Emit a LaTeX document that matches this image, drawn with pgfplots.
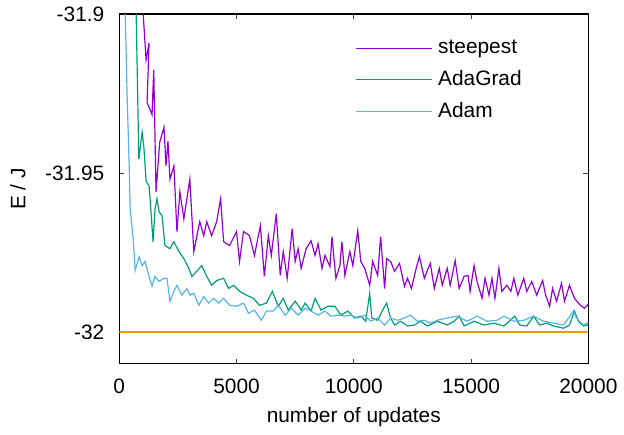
\documentclass[border=0pt]{standalone}
\usepackage{pgfplots}
\pgfplotsset{compat=1.18}
\usepackage{fontspec}
\setmainfont{Liberation Sans}

\definecolor{cSteep}{HTML}{9400D3}
\definecolor{cAdaGrad}{HTML}{009E73}
\definecolor{cAdam}{HTML}{56B4E9}
\definecolor{cRef}{HTML}{E69F00}

\begin{document}
\begin{tikzpicture}
\begin{axis}[
  at={(0,0)}, anchor=south west,
  scale only axis, width=236pt, height=176pt,
  xmin=0, xmax=20000, ymin=-32.01, ymax=-31.9,
  font=\fontsize{10.5}{12}\selectfont,
  axis line style={line width=0.6pt},
  tick align=inside, major tick length=2.5pt,
  tick style={line width=0.5pt, black!75},
  xtick={0,5000,10000,15000,20000},
  xticklabels={0,5000,10000,15000,20000},
  ytick={-32,-31.95,-31.9},
  yticklabels={-32,-31.95,-31.9},
  scaled x ticks=false, scaled y ticks=false,
  xticklabel style={yshift=-4pt},
  yticklabel style={xshift=-4pt},
  xlabel={number of updates},
  ylabel={E / J},
  xlabel style={at={(axis description cs:0.5,-0.153)}, anchor=center},
  ylabel style={at={(axis description cs:-0.216,0.5)}, anchor=center},
  legend style={draw=none, fill=none, at={(axis description cs:0.49,0.955)},
    anchor=north west, row sep=1pt,
    nodes={inner sep=3pt}},
  legend cell align=left,
  legend image code/.code={\draw[#1] (0pt,0pt) -- (35.5pt,0pt);
    \path (0pt,0pt) -- (38pt,0pt);},
  every axis plot/.append style={line width=0.6pt},
]
% steepest descent
\addplot[cSteep] coordinates {
(990,-31.885) (1017,-31.8997) (1144,-31.9144) (1271,-31.9091) (1186,-31.9278) (1398,-31.9316)
(1470,-31.9175) (1568,-31.9559) (1725,-31.9403) (1907,-31.9356) (1992,-31.9478) (2076,-31.94)
(2161,-31.9519) (2331,-31.9478) (2458,-31.9684) (2585,-31.9559) (2754,-31.9644) (3008,-31.9519)
(3178,-31.9747) (3432,-31.9653) (3602,-31.9697) (3729,-31.9653) (3941,-31.9697) (4153,-31.9653)
(4322,-31.9581) (4449,-31.9716) (4703,-31.9728) (5000,-31.9684) (5127,-31.9778) (5297,-31.9684)
(5551,-31.9697) (5763,-31.9759) (6017,-31.9666) (6186,-31.9825) (6356,-31.9697) (6483,-31.9759)
(6695,-31.9628) (6864,-31.9822) (6992,-31.9747) (7161,-31.9831) (7373,-31.9675) (7500,-31.9778)
(7627,-31.9738) (7754,-31.98) (7966,-31.9738) (8178,-31.9713) (8347,-31.9759) (8475,-31.9722)
(8644,-31.98) (8771,-31.9759) (8983,-31.9794) (9068,-31.97) (9237,-31.9831) (9407,-31.9791)
(9492,-31.9716) (9619,-31.9822) (9831,-31.9747) (9958,-31.9791) (10169,-31.9681) (10297,-31.9778)
(10466,-31.98) (10678,-31.9853) (10805,-31.9778) (11017,-31.9822) (11144,-31.97) (11314,-31.9863)
(11398,-31.9769) (11568,-31.9778) (11737,-31.9809) (11949,-31.9784) (12161,-31.9856) (12288,-31.9831)
(12458,-31.9863) (12627,-31.9809) (12797,-31.9763) (13008,-31.9831) (13136,-31.9806) (13263,-31.9784)
(13432,-31.9863) (13644,-31.98) (13771,-31.9853) (13983,-31.98) (14110,-31.9853) (14322,-31.9775)
(14492,-31.9863) (14703,-31.9825) (14873,-31.9822) (14958,-31.9872) (15127,-31.9791) (15254,-31.9841)
(15466,-31.9894) (15593,-31.9831) (15763,-31.9884) (15890,-31.9831) (16017,-31.9894) (16186,-31.98)
(16314,-31.9872) (16525,-31.9853) (16695,-31.9872) (16822,-31.9831) (16992,-31.9884) (17246,-31.9831)
(17373,-31.9872) (17585,-31.9841) (17797,-31.9884) (18051,-31.9838) (18178,-31.9884) (18347,-31.9919)
(18475,-31.9863) (18644,-31.9903) (18856,-31.9847) (18983,-31.9903) (19195,-31.9853) (19407,-31.9894)
(19661,-31.9916) (19831,-31.9925) (19958,-31.9916) (20000,-31.991)
};
\addlegendentry{steepest}
% AdaGrad
\addplot[cAdaGrad] coordinates {
(650,-31.89) (720,-31.8997) (835,-31.9456) (975,-31.9372) (1047,-31.9416) (1144,-31.9525)
(1271,-31.9541) (1314,-31.9581) (1441,-31.9716) (1525,-31.9613) (1610,-31.9581) (1695,-31.9622)
(1822,-31.9634) (1949,-31.9728) (2161,-31.9738) (2331,-31.9716) (2542,-31.9747) (2754,-31.9769)
(2966,-31.98) (3093,-31.9825) (3305,-31.9809) (3517,-31.9791) (3729,-31.9825) (3941,-31.9853)
(4153,-31.9838) (4449,-31.9831) (4661,-31.9863) (4873,-31.9853) (5127,-31.9872) (5424,-31.9884)
(5720,-31.9894) (5975,-31.9916) (6271,-31.9909) (6525,-31.9872) (6780,-31.9919) (6992,-31.9894)
(7203,-31.9931) (7500,-31.9903) (7754,-31.9931) (7924,-31.9909) (8178,-31.9934) (8347,-31.9894)
(8602,-31.9931) (8898,-31.9919) (9195,-31.9919) (9449,-31.9947) (9746,-31.9934) (10042,-31.9956)
(10297,-31.995) (10508,-31.9966) (10678,-31.9878) (10763,-31.9956) (11017,-31.9963) (11229,-31.9931)
(11398,-31.9909) (11568,-31.9956) (11737,-31.9978) (11992,-31.9966) (12288,-31.9981) (12585,-31.9978)
(12839,-31.9966) (13136,-31.9981) (13559,-31.9966) (13983,-31.9978) (14280,-31.9966) (14492,-31.995)
(14703,-31.9981) (15127,-31.9966) (15551,-31.9978) (15975,-31.9972) (16398,-31.9981) (16864,-31.995)
(17076,-31.9978) (17373,-31.9981) (17669,-31.995) (17924,-31.9978) (18220,-31.9972) (18517,-31.9981)
(18941,-31.9988) (19195,-31.9978) (19407,-31.9934) (19576,-31.9966) (19788,-31.9981) (19958,-31.9978)
(20000,-31.9975)
};
\addlegendentry{AdaGrad}
% Adam
\addplot[cAdam] coordinates {
(150,-31.89) (254,-31.8997) (339,-31.9269) (424,-31.9478) (466,-31.9613) (593,-31.9706)
(678,-31.9806) (847,-31.9763) (975,-31.9791) (1102,-31.9778) (1271,-31.9825) (1398,-31.9856)
(1525,-31.9825) (1695,-31.9841) (1907,-31.9831) (2034,-31.9831) (2161,-31.9903) (2331,-31.9872)
(2458,-31.9853) (2669,-31.9884) (2881,-31.9863) (3008,-31.9884) (3178,-31.9878) (3390,-31.9916)
(3602,-31.9888) (3814,-31.9909) (4025,-31.9894) (4237,-31.9909) (4449,-31.9894) (4703,-31.9916)
(5000,-31.9919) (5297,-31.9909) (5508,-31.9941) (5763,-31.9931) (6059,-31.9963) (6271,-31.9934)
(6568,-31.9934) (6780,-31.9916) (7076,-31.9947) (7331,-31.9925) (7627,-31.9947) (7924,-31.9925)
(8178,-31.9934) (8475,-31.9947) (8771,-31.9934) (9025,-31.995) (9322,-31.9947) (9619,-31.995)
(9873,-31.9947) (10169,-31.9956) (10466,-31.9947) (10720,-31.9966) (11017,-31.9956) (11314,-31.9978)
(11568,-31.9956) (11864,-31.9963) (12161,-31.9956) (12415,-31.9947) (12712,-31.9966) (13008,-31.9963)
(13263,-31.9972) (13559,-31.9963) (13983,-31.9956) (14407,-31.995) (14831,-31.9966) (15254,-31.995)
(15678,-31.9966) (16102,-31.9963) (16398,-31.995) (16822,-31.9966) (17246,-31.9963) (17669,-31.995)
(18093,-31.9966) (18517,-31.9972) (18941,-31.9978) (19364,-31.9934) (19492,-31.9956) (19788,-31.9978)
(19958,-31.9972) (20000,-31.997)
};
\addlegendentry{Adam}
% reference energy
\addplot[cRef, forget plot] coordinates {(0,-32) (20000,-32)};
\end{axis}
\path[use as bounding box] (-60pt,-35.5pt) rectangle (252pt,183pt);
\end{tikzpicture}
\end{document}
